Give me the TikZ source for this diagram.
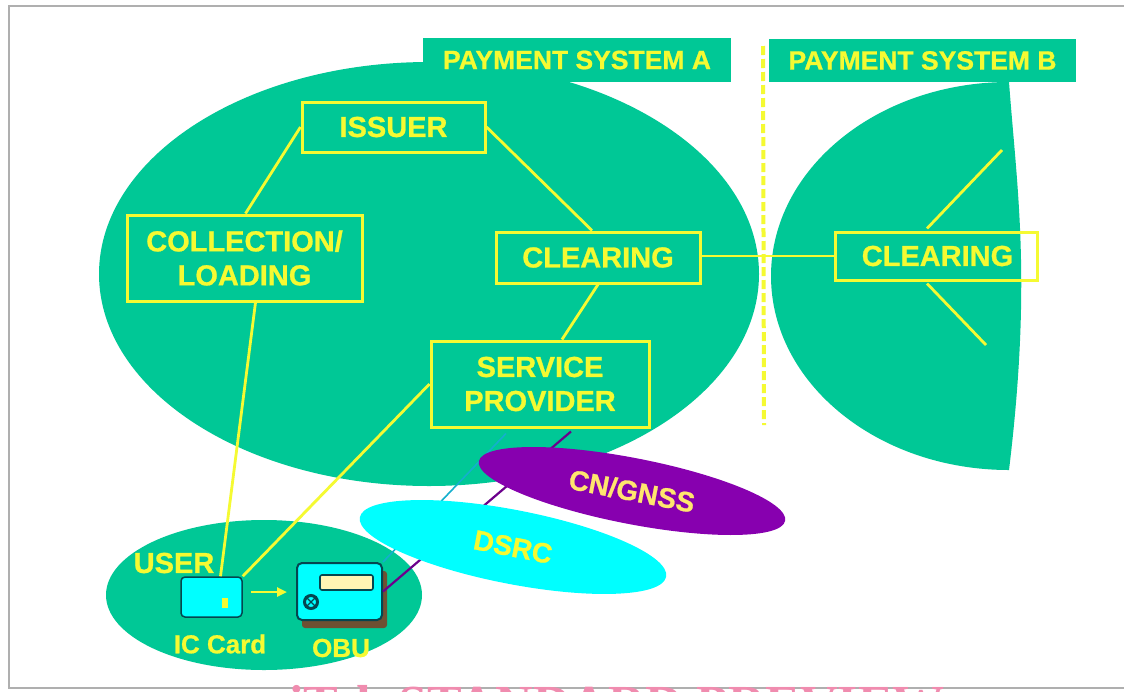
\documentclass[tikz,border=0pt]{standalone}
\usepackage{fontspec}
\setmainfont[BoldFeatures={FakeBold=0.8}]{Liberation Sans}
\newfontfamily\wmfont{Liberation Serif}
\usetikzlibrary{shapes.geometric,calc,arrows.meta}
\definecolor{pgreen}{RGB}{0,200,150}
\definecolor{pyellow}{RGB}{245,250,50}
\definecolor{ppurple}{RGB}{135,0,175}
\definecolor{pcyan}{RGB}{0,255,255}
\definecolor{pframe}{RGB}{175,175,175}
\definecolor{ppink}{RGB}{240,140,175}
\definecolor{pdark}{RGB}{5,70,80}
\definecolor{pbrown}{RGB}{110,80,50}
\definecolor{pcream}{RGB}{255,245,180}
\definecolor{psky}{RGB}{20,175,205}
\definecolor{pgold}{RGB}{255,230,110}
\tikzset{
 ybox/.style={draw=pyellow,line width=3pt,inner sep=0pt,align=center,text=pyellow,font=\bfseries\fontsize{29}{34}\selectfont},
 ylink/.style={draw=pyellow,line width=2.8pt},
 tag/.style={fill=pgreen,inner sep=0pt,text=pyellow,font=\bfseries\fontsize{26.5}{30}\selectfont},
 small/.style={text=pyellow,inner sep=0pt,font=\bfseries\fontsize{26}{30}\selectfont},
 blob/.style={ellipse,inner sep=0pt,fill=pgreen},
 band/.style={ellipse,inner sep=0pt,font=\bfseries\fontsize{28}{30}\selectfont},
}
\begin{document}
\begin{tikzpicture}[x=1pt,y=-1pt]
\useasboundingbox (0,0) rectangle (1124,691);
\clip (0,0) rectangle (1124,691);
\fill[white] (0,0) rectangle (1124,691);
% frame
\draw[pframe,line width=1.2pt] (1124,6) -- (9,6) -- (9,688) -- (1124,688);
% main blobs
\node[blob,minimum width=660pt,minimum height=424pt] (sysa) at (429,274) {};
\begin{scope}
\clip (700,60) -- (1009,60) -- (1009,82) .. controls (1017,190) and (1032,280) .. (1009,470) -- (700,480) -- cycle;
\node[blob,minimum width=476pt,minimum height=388pt] (sysb) at (1009,276) {};
\end{scope}
\node[blob,minimum width=316pt,minimum height=150pt] (user) at (264,595) {};
% tags
\node[tag,minimum width=308pt,minimum height=44pt] (taga) at (577,60) {PAYMENT SYSTEM A};
\node[tag,minimum width=307pt,minimum height=43pt] (tagb) at (922.5,60.5) {PAYMENT SYSTEM B};
% boundary
\coordinate (dtop) at (763,46);
\coordinate (dbot) at (764,425);
\draw[pyellow,line width=4pt,dash pattern=on 9pt off 4pt] (dtop) -- (dbot);
% boxes
\node[ybox,minimum width=183pt,minimum height=50pt] (issuer) at (393.5,127) {ISSUER};
\node[ybox,minimum width=235pt,minimum height=86pt] (coll) at (244.5,258) {COLLECTION/\\LOADING};
\node[ybox,minimum width=204pt,minimum height=51pt] (cleara) at (598,257.5) {CLEARING};
\node[ybox,minimum width=218pt,minimum height=86pt] (sp) at (540,384) {SERVICE\\PROVIDER};
\node[ybox,minimum width=202pt,minimum height=48pt] (clearb) at (936,256) {};
\node[text=pyellow,inner sep=0pt,font=\bfseries\fontsize{29}{34}\selectfont] (clearbt) at (937.5,256) {CLEARING};
% card and OBU
\node[draw=pdark,line width=1.5pt,fill=pcyan,rounded corners=4pt,minimum width=61pt,minimum height=40pt,inner sep=0pt] (card) at (211.5,597) {};
\node[fill=pyellow,minimum width=6pt,minimum height=10pt,inner sep=0pt] (chip) at (225,603) {};
\node[fill=pbrown,rounded corners=3pt,minimum width=85pt,minimum height=57pt,inner sep=0pt] (shadow) at (344.5,599.5) {};
\node[draw=pdark,line width=2pt,fill=pcyan,rounded corners=5pt,minimum width=85pt,minimum height=57pt,inner sep=0pt] (obu) at (339.5,591.5) {};
\node[draw=pdark,line width=1.6pt,fill=pcream,rounded corners=2pt,minimum width=53pt,minimum height=15pt,inner sep=0pt] (screen) at (346.5,582.5) {};
\node[circle,draw=pdark,line width=3pt,minimum size=13pt,inner sep=0pt] (dial) at (311,602) {};
\draw[pdark,line width=1.3pt] (dial.north west) -- (dial.south east) (dial.north east) -- (dial.south west);
% radio links behind the bands
\coordinate (cyanend) at ($(sp.south)+(-34,5)$);
\coordinate (purpend) at ($(sp.south)+(31,3)$);
\draw[psky,line width=1.6pt] (cyanend) -- (obu.north east);
\draw[ppurple!80!black,line width=2.2pt] (purpend) -- (obu.east);
\node[band,fill=ppurple,text=pgold,minimum width=312pt,minimum height=66pt,rotate=-11] (cn) at (632,491) {CN/GNSS};
\node[band,fill=pcyan,text=pyellow,minimum width=312pt,minimum height=74pt,rotate=-11] (dsrc) at (513,547) {DSRC};
% user texts
\node[small,font=\bfseries\fontsize{29}{30}\selectfont] (usert) at (174,563) {USER};
\node[small] (ict) at (220,644) {IC Card};
\node[small] (obut) at (341,648) {OBU};
% connectors
\draw[ylink] (issuer.west) -- ($(coll.north)+(1,0)$);
\draw[ylink] (issuer.east) -- ($(cleara.north)+(-6,0)$);
\draw[ylink] (cleara.south) -- ($(sp.north)+(22,0)$);
\draw[ylink] ($(cleara.east)+(0,-1.5)$) -- (clearb.west);
\draw[ylink] ($(coll.south)+(11,0)$) -- ($(card.north)+(9,0)$);
\draw[ylink] (sp.west) -- (card.north east);
\draw[pyellow,line width=2.4pt,-{Triangle[length=10pt,width=9pt]}] ($(card.east)+(8,-5)$) -- ($(obu.west)+(-9,0.5)$);
\coordinate (b1) at (1002,150);
\coordinate (b2) at (986,345);
\draw[ylink] ($(clearb.north)+(-9,-2)$) -- (b1);
\draw[ylink] ($(clearb.south)+(-9,2)$) -- (b2);
% watermark
\node[anchor=base,text=ppink,inner sep=0pt,font=\wmfont\bfseries\fontsize{52}{52}\selectfont] (wm) at (617,721) {iTeh STANDARD PREVIEW};
\end{tikzpicture}
\end{document}
